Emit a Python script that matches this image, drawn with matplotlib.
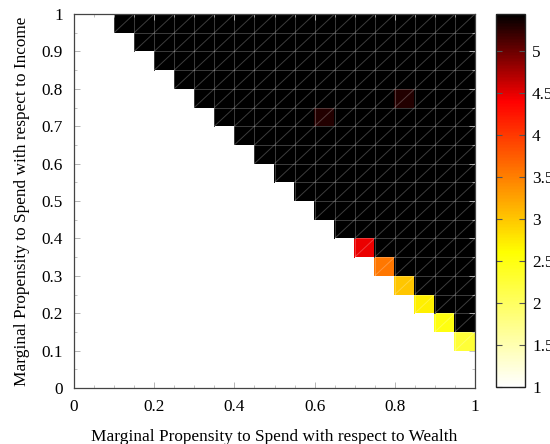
import numpy as np
import matplotlib
matplotlib.use("Agg")
import matplotlib.pyplot as plt
from matplotlib.colors import LinearSegmentedColormap
from matplotlib.tri import Triangulation
from matplotlib.collections import LineCollection

plt.rcParams['font.family'] = ['Liberation Serif', 'DejaVu Serif']

# ---- data ----
x_edges = [0.00, 0.05, 0.10, 0.15, 0.20, 0.25, 0.30, 0.35, 0.40, 0.45, 0.50,
           0.55, 0.60, 0.65, 0.70, 0.75, 0.80, 0.85, 0.90, 0.95, 1.00]
y_edges = [0.00, 0.05, 0.10, 0.15, 0.20, 0.25, 0.30, 0.35, 0.40, 0.45, 0.50,
           0.55, 0.60, 0.65, 0.70, 0.75, 0.80, 0.85, 0.90, 0.95, 1.00]
N = np.nan
H = 5.44
# rows from y=0 (bottom) to y=0.95 (top); columns x=0 .. 0.95
cell_values = [
    [N, N, N, N, N, N, N, N, N, N, N, N, N, N, N, N, N, N, N, N],
    [N, N, N, N, N, N, N, N, N, N, N, N, N, N, N, N, N, N, N, N],
    [N, N, N, N, N, N, N, N, N, N, N, N, N, N, N, N, N, N, N, 2.25],
    [N, N, N, N, N, N, N, N, N, N, N, N, N, N, N, N, N, N, 2.5, H],
    [N, N, N, N, N, N, N, N, N, N, N, N, N, N, N, N, N, 2.7, H, H],
    [N, N, N, N, N, N, N, N, N, N, N, N, N, N, N, N, 3.0, H, H, H],
    [N, N, N, N, N, N, N, N, N, N, N, N, N, N, N, 3.55, H, H, H, H],
    [N, N, N, N, N, N, N, N, N, N, N, N, N, N, 4.47, H, H, H, H, H],
    [N, N, N, N, N, N, N, N, N, N, N, N, N, H, H, H, H, H, H, H],
    [N, N, N, N, N, N, N, N, N, N, N, N, H, H, H, H, H, H, H, H],
    [N, N, N, N, N, N, N, N, N, N, N, H, H, H, H, H, H, H, H, H],
    [N, N, N, N, N, N, N, N, N, N, H, H, H, H, H, H, H, H, H, H],
    [N, N, N, N, N, N, N, N, N, H, H, H, H, H, H, H, H, H, H, H],
    [N, N, N, N, N, N, N, N, H, H, H, H, H, H, H, H, H, H, H, H],
    [N, N, N, N, N, N, N, H, H, H, H, H, 5.3, H, H, H, H, H, H, H],
    [N, N, N, N, N, N, H, H, H, H, H, H, H, H, H, H, 5.3, H, H, H],
    [N, N, N, N, N, H, H, H, H, H, H, H, H, H, H, H, H, H, H, H],
    [N, N, N, N, H, H, H, H, H, H, H, H, H, H, H, H, H, H, H, H],
    [N, N, N, H, H, H, H, H, H, H, H, H, H, H, H, H, H, H, H, H],
    [N, N, H, H, H, H, H, H, H, H, H, H, H, H, H, H, H, H, H, H],
]
cbar_ticks = [1, 1.5, 2, 2.5, 3, 3.5, 4, 4.5, 5]
vmin, vmax = 1.0, 5.44

# ---- colormap ----
def pos(v):
    return (v - vmin) / (vmax - vmin)

cmap = LinearSegmentedColormap.from_list(
    "wyrk",
    [(0.0, (1, 1, 1)), (pos(2.6), (1, 1, 0)), (pos(4.4), (1, 0, 0)), (1.0, (0, 0, 0))])

# ---- triangulation ----
xe = np.array(x_edges)
ye = np.array(y_edges)
nx = len(xe)
X, Y = np.meshgrid(xe, ye)
px = X.ravel()
py = Y.ravel()
vals = np.array(cell_values, dtype=float)
tris = []
fcs = []
edges = set()
for j in range(vals.shape[0]):
    for i in range(vals.shape[1]):
        v = vals[j, i]
        if np.isnan(v):
            continue
        ll = j * nx + i
        lr = j * nx + i + 1
        ul = (j + 1) * nx + i
        ur = (j + 1) * nx + i + 1
        tris.append([ll, lr, ur])
        fcs.append(v)
        tris.append([ll, ur, ul])
        fcs.append(v)
        for a, b in [(ll, lr), (lr, ur), (ur, ul), (ul, ll), (ll, ur)]:
            edges.add((min(a, b), max(a, b)))
tri = Triangulation(px, py, np.array(tris))

fig = plt.figure(figsize=(5.5, 4.44), dpi=100)
ax = fig.add_axes([74 / 550, 1 - 388 / 444, 401 / 550, 374 / 444])
tpc = ax.tripcolor(tri, facecolors=np.array(fcs), cmap=cmap, vmin=vmin, vmax=vmax,
                   edgecolors='none', antialiased=False)
segs = [[(px[a], py[a]), (px[b], py[b])] for a, b in sorted(edges)]
lc = LineCollection(segs, colors=[(1, 1, 1, 0.24)], linewidths=0.7)
ax.add_collection(lc)
ax.set_xlim(0, 1)
ax.set_ylim(0, 1)
ax.set_xticks([0, 0.2, 0.4, 0.6, 0.8, 1])
ax.set_xticklabels(['0', '0.2', '0.4', '0.6', '0.8', '1'])
ax.set_yticks([0, 0.1, 0.2, 0.3, 0.4, 0.5, 0.6, 0.7, 0.8, 0.9, 1])
ax.set_yticklabels(['0', '0.1', '0.2', '0.3', '0.4', '0.5', '0.6', '0.7', '0.8', '0.9', '1'])
ax.set_xticks(np.arange(0, 1.0001, 0.05), minor=True)
ax.set_yticks(np.arange(0, 1.0001, 0.05), minor=True)
ax.tick_params(which='both', direction='in', top=True, right=True, color='#aaaaaa',
               labelsize=12.4, pad=8)
ax.tick_params(which='major', length=4, width=0.6)
ax.tick_params(which='minor', length=2, width=0.5)
for s in ax.spines.values():
    s.set_color('#444444')
    s.set_linewidth(0.9)
    s.set_zorder(5)
ax.set_xlabel('Marginal Propensity to Spend with respect to Wealth', fontsize=12.4, labelpad=10)
ax.set_ylabel('Marginal Propensity to Spend with respect to Income', fontsize=12.4, labelpad=8)

cax = fig.add_axes([496 / 550, 1 - 387 / 444, 29 / 550, 373 / 444])
cb = fig.colorbar(tpc, cax=cax, ticks=cbar_ticks)
cb.ax.set_yticklabels(['1', '1.5', '2', '2.5', '3', '3.5', '4', '4.5', '5'])
cb.ax.tick_params(direction='in', left=True, right=True, length=4, width=0.8,
                  color='#555555', labelsize=12.4, pad=5)
cb.outline.set_edgecolor('#222222')
cb.outline.set_linewidth(1.0)

fig.savefig('out.png', dpi=100)
